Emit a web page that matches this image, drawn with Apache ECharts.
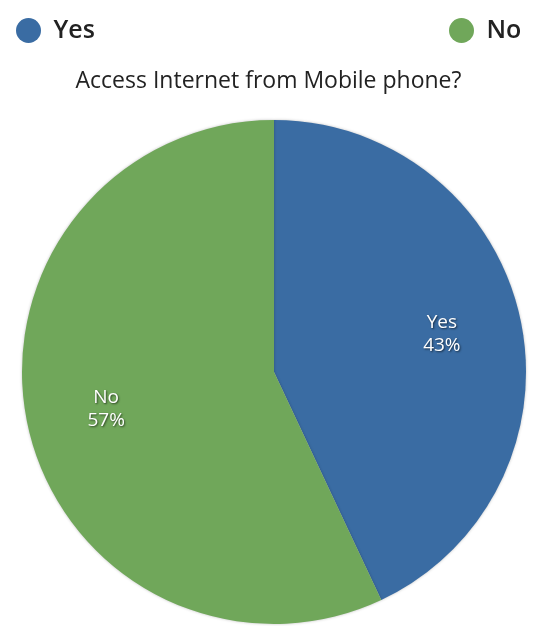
<!DOCTYPE html>
<html><head><meta charset="utf-8">
<script src="https://cdn.jsdelivr.net/npm/echarts@6/dist/echarts.min.js"></script>
<style>html,body{margin:0;padding:0;background:#fff}#c{width:537px;height:626px}</style>
</head><body><div id="c"></div>
<script>
const categories = ['Yes', 'No'];
const values = [43, 57];
const colors = ['#3A6CA3', '#70A75A'];
const titleText = 'Access Internet from Mobile phone?';

const data = categories.map((c, i) => ({ name: c, value: values[i], itemStyle: { color: colors[i] } }));
const chart = echarts.init(document.getElementById('c'));
chart.setOption({
  animation: false,
  title: { text: titleText, left: 'center', top: 65, textStyle: { fontFamily: 'Open Sans', fontSize: 23, fontWeight: 'normal', color: '#222' } },
  legend: [
    { data: ['Yes'], left: 11, top: 13, icon: 'circle', itemWidth: 26, itemHeight: 25,
      textStyle: { fontFamily: 'Open Sans', fontSize: 25, fontWeight: 600, color: '#222', padding: [0, 0, 0, 7] } },
    { data: ['No'], left: 444, top: 13, icon: 'circle', itemWidth: 26, itemHeight: 25,
      textStyle: { fontFamily: 'Open Sans', fontSize: 25, fontWeight: 600, color: '#222', padding: [0, 0, 0, 7] } }
  ],
  series: [
    { type: 'pie', center: [274, 372], radius: [0, 252], startAngle: 90, clockwise: true,
      data: data, label: { show: false }, labelLine: { show: false }, silent: true,
      itemStyle: { shadowColor: 'rgba(0,0,0,0.25)', shadowBlur: 3 } },
    { type: 'pie', center: [274, 372], radius: [86, 252], startAngle: 90, clockwise: true,
      data: categories.map((c, i) => ({ name: c, value: values[i] })),
      itemStyle: { color: 'rgba(0,0,0,0)' }, silent: true, legendHoverLink: false,
      label: { show: true, position: 'inside', formatter: '{b}\n{d}%', color: '#fff', fontFamily: 'Open Sans',
        fontSize: 19, lineHeight: 23, textShadowColor: 'rgba(0,0,0,0.6)', textShadowBlur: 2, textShadowOffsetX: 1, textShadowOffsetY: 1 },
      labelLine: { show: false } }
  ]
});
</script></body></html>
